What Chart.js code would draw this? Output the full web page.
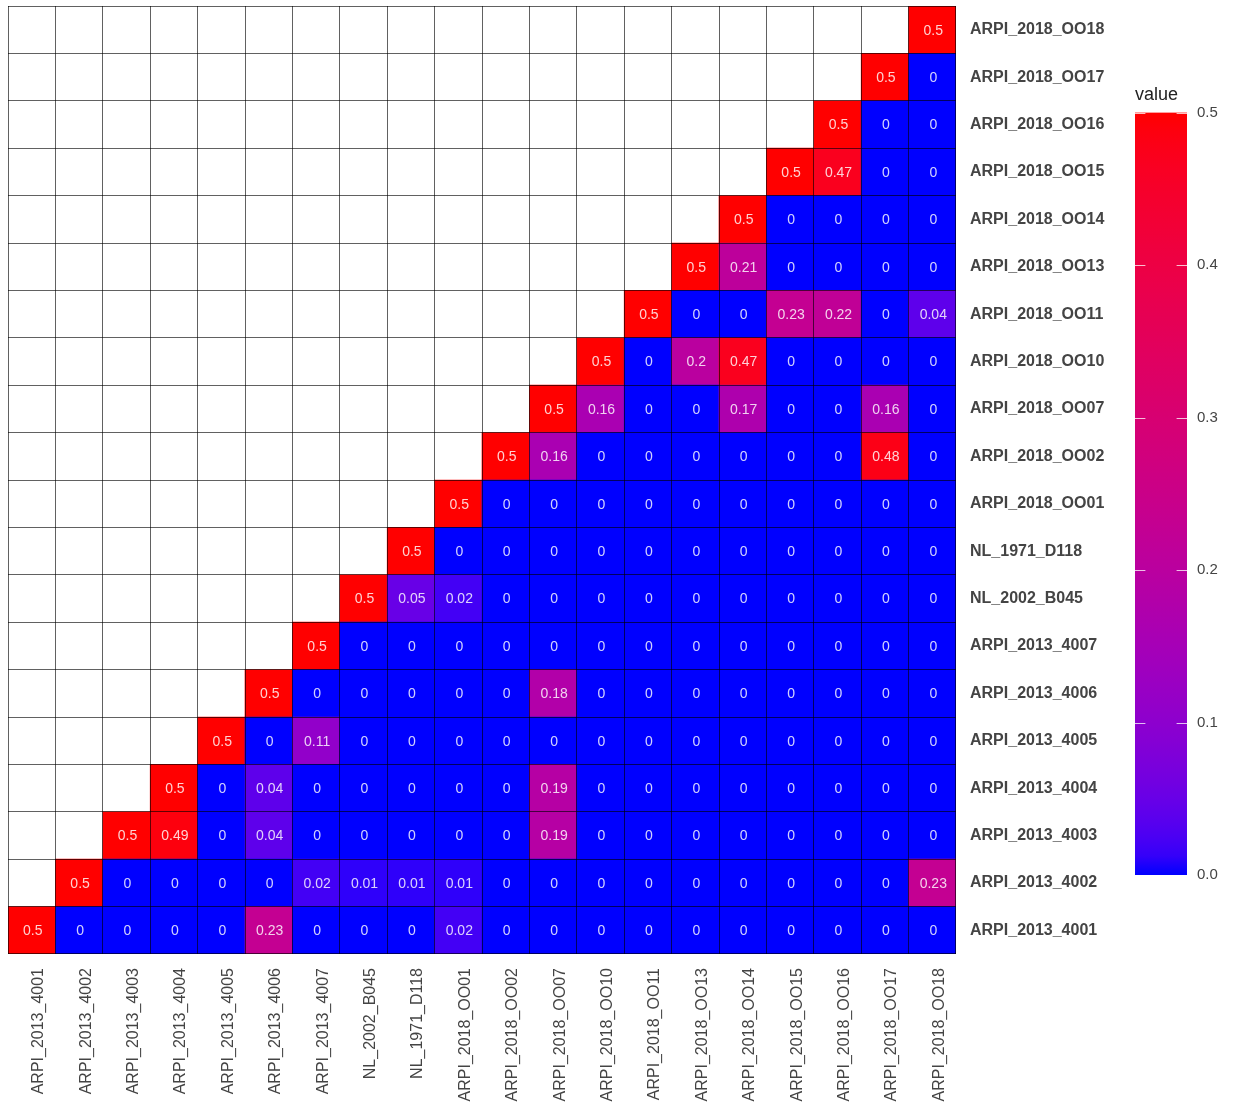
<!DOCTYPE html>
<html>
<head>
<meta charset="utf-8">
<title>Pairwise relatedness heatmap</title>
<script src="https://cdn.jsdelivr.net/npm/chart.js@4.4.1/dist/chart.umd.min.js"></script>
<style>
  html, body { margin: 0; padding: 0; background: #ffffff; }
  #heat { position: absolute; left: 0; top: 0; width: 1120px; height: 1105px; }
  #bar { position: absolute; left: 1125px; top: 84px; width: 109px; height: 810px; }
</style>
</head>
<body>
<div id="heat"><canvas id="heatCanvas"></canvas></div>
<div id="bar"><canvas id="barCanvas"></canvas></div>
<script>
// Sample names, used for both axes (left-to-right on x, bottom-to-top on y)
const samples = [
  'ARPI_2013_4001', 'ARPI_2013_4002', 'ARPI_2013_4003', 'ARPI_2013_4004',
  'ARPI_2013_4005', 'ARPI_2013_4006', 'ARPI_2013_4007', 'NL_2002_B045',
  'NL_1971_D118', 'ARPI_2018_OO01', 'ARPI_2018_OO02', 'ARPI_2018_OO07',
  'ARPI_2018_OO10', 'ARPI_2018_OO11', 'ARPI_2018_OO13', 'ARPI_2018_OO14',
  'ARPI_2018_OO15', 'ARPI_2018_OO16', 'ARPI_2018_OO17', 'ARPI_2018_OO18'
];

// One row of pairwise values per sample (null = lower triangle, left blank)
const n = null;
const row4001 = [0.5, 0, 0, 0, 0, 0.23, 0, 0, 0, 0.02, 0, 0, 0, 0, 0, 0, 0, 0, 0, 0];
const row4002 = [n, 0.5, 0, 0, 0, 0, 0.02, 0.01, 0.01, 0.01, 0, 0, 0, 0, 0, 0, 0, 0, 0, 0.23];
const row4003 = [n, n, 0.5, 0.49, 0, 0.04, 0, 0, 0, 0, 0, 0.19, 0, 0, 0, 0, 0, 0, 0, 0];
const row4004 = [n, n, n, 0.5, 0, 0.04, 0, 0, 0, 0, 0, 0.19, 0, 0, 0, 0, 0, 0, 0, 0];
const row4005 = [n, n, n, n, 0.5, 0, 0.11, 0, 0, 0, 0, 0, 0, 0, 0, 0, 0, 0, 0, 0];
const row4006 = [n, n, n, n, n, 0.5, 0, 0, 0, 0, 0, 0.18, 0, 0, 0, 0, 0, 0, 0, 0];
const row4007 = [n, n, n, n, n, n, 0.5, 0, 0, 0, 0, 0, 0, 0, 0, 0, 0, 0, 0, 0];
const rowB045 = [n, n, n, n, n, n, n, 0.5, 0.05, 0.02, 0, 0, 0, 0, 0, 0, 0, 0, 0, 0];
const rowD118 = [n, n, n, n, n, n, n, n, 0.5, 0, 0, 0, 0, 0, 0, 0, 0, 0, 0, 0];
const rowOO01 = [n, n, n, n, n, n, n, n, n, 0.5, 0, 0, 0, 0, 0, 0, 0, 0, 0, 0];
const rowOO02 = [n, n, n, n, n, n, n, n, n, n, 0.5, 0.16, 0, 0, 0, 0, 0, 0, 0.48, 0];
const rowOO07 = [n, n, n, n, n, n, n, n, n, n, n, 0.5, 0.16, 0, 0, 0.17, 0, 0, 0.16, 0];
const rowOO10 = [n, n, n, n, n, n, n, n, n, n, n, n, 0.5, 0, 0.2, 0.47, 0, 0, 0, 0];
const rowOO11 = [n, n, n, n, n, n, n, n, n, n, n, n, n, 0.5, 0, 0, 0.23, 0.22, 0, 0.04];
const rowOO13 = [n, n, n, n, n, n, n, n, n, n, n, n, n, n, 0.5, 0.21, 0, 0, 0, 0];
const rowOO14 = [n, n, n, n, n, n, n, n, n, n, n, n, n, n, n, 0.5, 0, 0, 0, 0];
const rowOO15 = [n, n, n, n, n, n, n, n, n, n, n, n, n, n, n, n, 0.5, 0.47, 0, 0];
const rowOO16 = [n, n, n, n, n, n, n, n, n, n, n, n, n, n, n, n, n, 0.5, 0, 0];
const rowOO17 = [n, n, n, n, n, n, n, n, n, n, n, n, n, n, n, n, n, n, 0.5, 0];
const rowOO18 = [n, n, n, n, n, n, n, n, n, n, n, n, n, n, n, n, n, n, n, 0.5];

const rows = [row4001, row4002, row4003, row4004, row4005, row4006, row4007,
  rowB045, rowD118, rowOO01, rowOO02, rowOO07, rowOO10, rowOO11, rowOO13,
  rowOO14, rowOO15, rowOO16, rowOO17, rowOO18];

// Colour scale limits and legend breaks
const scaleMin = 0;
const scaleMax = 0.5;
const legendBreaks = [0, 0.1, 0.2, 0.3, 0.4, 0.5];

// ---- blue -> red gradient, interpolated in CIE Lab ----
function toLinear(c) { c /= 255; return c <= 0.04045 ? c / 12.92 : Math.pow((c + 0.055) / 1.055, 2.4); }
function fromLinear(c) { const v = c <= 0.0031308 ? 12.92 * c : 1.055 * Math.pow(c, 1 / 2.4) - 0.055; return Math.max(0, Math.min(255, Math.round(v * 255))); }
const WN = [0.95047, 1, 1.08883];
function rgbToLab([r, g, b]) {
  r = toLinear(r); g = toLinear(g); b = toLinear(b);
  const X = (0.4124 * r + 0.3576 * g + 0.1805 * b) / WN[0];
  const Y = (0.2126 * r + 0.7152 * g + 0.0722 * b) / WN[1];
  const Z = (0.0193 * r + 0.1192 * g + 0.9505 * b) / WN[2];
  const f = t => t > 0.008856 ? Math.cbrt(t) : 7.787 * t + 16 / 116;
  const fx = f(X), fy = f(Y), fz = f(Z);
  return [116 * fy - 16, 500 * (fx - fy), 200 * (fy - fz)];
}
function labToRgb([L, a, bb]) {
  const fy = (L + 16) / 116, fx = fy + a / 500, fz = fy - bb / 200;
  const inv = f => { const c = f * f * f; return c > 0.008856 ? c : (f - 16 / 116) / 7.787; };
  const X = inv(fx) * WN[0], Y = inv(fy) * WN[1], Z = inv(fz) * WN[2];
  const r = 3.2406 * X - 1.5372 * Y - 0.4986 * Z;
  const g = -0.9689 * X + 1.8758 * Y + 0.0415 * Z;
  const b = 0.0557 * X - 0.2040 * Y + 1.0570 * Z;
  return [fromLinear(r), fromLinear(g), fromLinear(b)];
}
const LOW = rgbToLab([0, 0, 255]);
const HIGH = rgbToLab([255, 0, 0]);
function colourFor(v) {
  const t = Math.max(0, Math.min(1, (v - scaleMin) / (scaleMax - scaleMin)));
  const lab = LOW.map((c, i) => c + (HIGH[i] - c) * t);
  const [r, g, b] = labToRgb(lab);
  return `rgb(${r},${g},${b})`;
}
function fmt(v) { return String(Math.round(v * 100) / 100); }

const FONT = "'Liberation Sans', Arial, Helvetica, sans-serif";

// Each row becomes one dataset of floating bars spanning [row, row + 1]
const datasets = rows.map((vals, r) => ({
  label: samples[r],
  values: vals,
  data: vals.map(v => (v === null ? null : [r, r + 1])),
  backgroundColor: vals.map(v => (v === null ? 'rgba(0,0,0,0)' : colourFor(v))),
  borderWidth: 0,
  barPercentage: 1,
  categoryPercentage: 1,
  grouped: false
}));

// Writes the rounded value in the middle of every filled cell
const cellLabels = {
  id: 'cellLabels',
  afterDatasetsDraw(chart) {
    const ctx = chart.ctx;
    ctx.save();
    ctx.font = `14px ${FONT}`;
    ctx.fillStyle = 'rgba(255,255,255,0.82)';
    ctx.textAlign = 'center';
    ctx.textBaseline = 'middle';
    chart.data.datasets.forEach((ds, di) => {
      chart.getDatasetMeta(di).data.forEach((el, i) => {
        const v = ds.values[i];
        if (v === null) return;
        ctx.fillText(fmt(v), el.x + 1, (el.y + el.base) / 2 + 1);
      });
    });
    ctx.restore();
  }
};

new Chart(document.getElementById('heatCanvas'), {
  type: 'bar',
  data: { labels: samples, datasets },
  plugins: [cellLabels],
  options: {
    responsive: true,
    maintainAspectRatio: false,
    animation: false,
    events: [],
    layout: { padding: { left: 8, top: 6, right: 0, bottom: 0 } },
    plugins: { legend: { display: false }, tooltip: { enabled: false } },
    scales: {
      x: {
        type: 'category',
        offset: true,
        grid: { offset: true, color: 'rgba(0,0,0,0.62)', lineWidth: 1, drawTicks: false, z: 1 },
        border: { display: false },
        ticks: {
          autoSkip: false, minRotation: 90, maxRotation: 90, padding: 14, labelOffset: 7,
          color: '#444444', font: { family: FONT, size: 16 }
        },
        afterFit(scale) {
          scale.height = 151;
          scale.paddingLeft = 0;
          scale.paddingRight = 0;
        }
      },
      y: {
        type: 'linear',
        position: 'right',
        min: 0,
        max: samples.length,
        grid: { offset: true, color: 'rgba(0,0,0,0.62)', lineWidth: 1, drawTicks: false, z: 1 },
        border: { display: false },
        afterBuildTicks(scale) { scale.ticks = samples.map((_, i) => ({ value: i + 0.5 })); },
        ticks: {
          padding: 14,
          color: '#444444',
          font: { family: FONT, size: 16, weight: 'bold' },
          callback: (value, index) => samples[index]
        },
        afterFit(scale) {
          scale.width = 164;
          scale.paddingTop = 0;
          scale.paddingBottom = 0;
        }
      }
    }
  }
});

// ---- colour bar legend ----
function barGradient(context) {
  const chart = context.chart;
  const area = chart.chartArea;
  if (!area) return colourFor(scaleMax);
  const g = chart.ctx.createLinearGradient(0, area.bottom, 0, area.top);
  for (let k = 0; k <= 40; k++) {
    const t = k / 40;
    g.addColorStop(t, colourFor(scaleMin + t * (scaleMax - scaleMin)));
  }
  return g;
}

// White break marks drawn on both edges of the colour bar
const barTicks = {
  id: 'barTicks',
  afterDatasetsDraw(chart) {
    const ctx = chart.ctx;
    const area = chart.chartArea;
    const y = chart.scales.y;
    const len = (area.right - area.left) / 5;
    ctx.save();
    ctx.strokeStyle = 'rgba(255,255,255,0.75)';
    ctx.lineWidth = 1;
    legendBreaks.forEach(b => {
      const py = Math.round(y.getPixelForValue(b)) + 0.5;
      ctx.beginPath();
      ctx.moveTo(area.left, py); ctx.lineTo(area.left + len, py);
      ctx.moveTo(area.right - len, py); ctx.lineTo(area.right, py);
      ctx.stroke();
    });
    ctx.restore();
  }
};

new Chart(document.getElementById('barCanvas'), {
  type: 'bar',
  data: {
    labels: ['value'],
    datasets: [{
      data: [[scaleMin, scaleMax]],
      backgroundColor: barGradient,
      borderWidth: 0,
      barPercentage: 1,
      categoryPercentage: 1
    }]
  },
  plugins: [barTicks],
  options: {
    responsive: true,
    maintainAspectRatio: false,
    animation: false,
    events: [],
    layout: { padding: { left: 10, top: 0, right: 0, bottom: 12 } },
    plugins: {
      legend: { display: false },
      tooltip: { enabled: false },
      title: {
        display: true,
        text: 'value',
        align: 'start',
        color: '#222222',
        font: { family: FONT, size: 18, weight: 'normal', lineHeight: 1.2 },
        padding: { top: 0, bottom: 7 }
      }
    },
    scales: {
      x: { display: false },
      y: {
        position: 'right',
        min: scaleMin,
        max: scaleMax,
        afterBuildTicks(scale) { scale.ticks = legendBreaks.map(v => ({ value: v })); },
        grid: { display: false, drawTicks: false },
        border: { display: false },
        ticks: {
          padding: 10,
          color: '#444444',
          font: { family: FONT, size: 15 },
          callback: v => Number(v).toFixed(1)
        },
        afterFit(scale) { scale.width = 47; }
      }
    }
  }
});
</script>
</body>
</html>
